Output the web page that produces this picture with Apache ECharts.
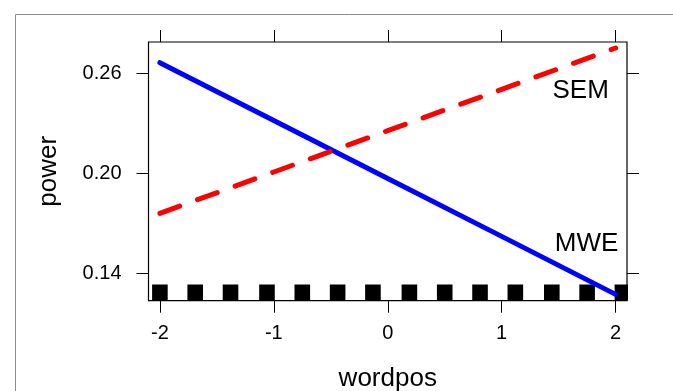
<!DOCTYPE html>
<html>
<head>
<meta charset="utf-8">
<script src="https://cdn.jsdelivr.net/npm/echarts@6/dist/echarts.min.js"></script>
<style>
  html, body { margin: 0; padding: 0; background: #fff; }
  #main { width: 673px; height: 391px; }
</style>
</head>
<body>
<div id="main"></div>
<script>
var wordpos = [-2, -1, 0, 1, 2];
var powerMWE = [0.2664, 0.2317, 0.1969, 0.1622, 0.1274];
var powerSEM = [0.1760, 0.2008, 0.2256, 0.2504, 0.2752];
var rugX = [-2.00, -1.69, -1.38, -1.06, -0.75, -0.44, -0.13, 0.19, 0.50, 0.81, 1.12, 1.44, 1.75, 2.06];
var xTicks = [-2, -1, 0, 1, 2];
var yTicks = [0.14, 0.20, 0.26];
var seriesLabels = [['SEM', 1.693, 0.2493], ['MWE', 1.745, 0.1576]];

var chart = echarts.init(document.getElementById('main'));
var font = 'Liberation Sans, Arial, Helvetica, sans-serif';
var xMin = -2.1, xMax = 2.1, yMin = 0.1236, yMax = 0.2788;

function pairs(xs, ys) {
    return xs.map(function (x, i) { return [x, ys[i]]; });
}

function xAx(pos, showLabel) {
    return {
        type: 'value', position: pos, min: xMin, max: xMax,
        splitLine: { show: false },
        axisLine: { show: false, onZero: false },
        axisTick: { show: true, length: 12, inside: false, customValues: xTicks,
            lineStyle: { color: '#000', width: 1 } },
        axisLabel: { show: showLabel, customValues: xTicks, margin: 23,
            color: '#000', fontSize: 20, fontFamily: font },
        name: showLabel ? 'wordpos' : '',
        nameLocation: 'middle', nameGap: 65,
        nameTextStyle: { color: '#000', fontSize: 26, fontFamily: font }
    };
}

function yAx(pos, showLabel) {
    return {
        type: 'value', position: pos, min: yMin, max: yMax,
        splitLine: { show: false },
        axisLine: { show: false, onZero: false },
        axisTick: { show: true, length: 12, inside: false, customValues: yTicks,
            lineStyle: { color: '#000', width: 1 } },
        axisLabel: { show: showLabel, customValues: yTicks, margin: 27,
            color: '#000', fontSize: 20, fontFamily: font,
            formatter: function (v) { return v.toFixed(2); } },
        name: showLabel ? 'power' : '',
        nameLocation: 'middle', nameGap: 87,
        nameTextStyle: { color: '#000', fontSize: 26, fontFamily: font }
    };
}

var option = {
    animation: false,
    backgroundColor: '#fff',
    graphic: [{
        type: 'rect', silent: true,
        shape: { x: 15.5, y: 14.5, width: 700, height: 400 },
        style: { fill: 'none', stroke: '#8c8c8c', lineWidth: 1 }
    }],
    grid: {
        left: 148.5, top: 42, width: 478.5, height: 258.7,
        outerBoundsMode: 'none', containLabel: false,
        show: true, borderColor: '#000', borderWidth: 1.2, backgroundColor: 'transparent'
    },
    xAxis: [xAx('bottom', true), xAx('top', false)],
    yAxis: [yAx('left', true), yAx('right', false)],
    series: [{
        type: 'custom',
        name: 'rug',
        clip: true,
        data: rugX.map(function (x) { return [x]; }),
        renderItem: function (params, api) {
            var p = api.coord([api.value(0), yMin]);
            return {
                type: 'rect',
                shape: { x: p[0] - 7.8, y: p[1] - 16.2, width: 15.6, height: 16.2 },
                style: { fill: '#000' }
            };
        },
        z: 2
    }, {
        type: 'line',
        name: 'MWE',
        data: pairs(wordpos, powerMWE),
        showSymbol: false,
        lineStyle: { color: '#0000ff', width: 5, cap: 'round' },
        z: 3
    }, {
        type: 'line',
        name: 'SEM',
        data: pairs(wordpos, powerSEM),
        showSymbol: false,
        lineStyle: { color: '#ff0000', width: 5, cap: 'round', type: [21, 19] },
        markPoint: {
            symbol: 'rect', symbolSize: 1,
            itemStyle: { color: 'transparent' },
            label: { show: true, position: 'inside', color: '#000', fontSize: 26, fontFamily: font,
                formatter: '{b}' },
            data: seriesLabels.map(function (s) { return { name: s[0], coord: [s[1], s[2]] }; })
        },
        z: 3
    }]
};
chart.setOption(option);
</script>
</body>
</html>
